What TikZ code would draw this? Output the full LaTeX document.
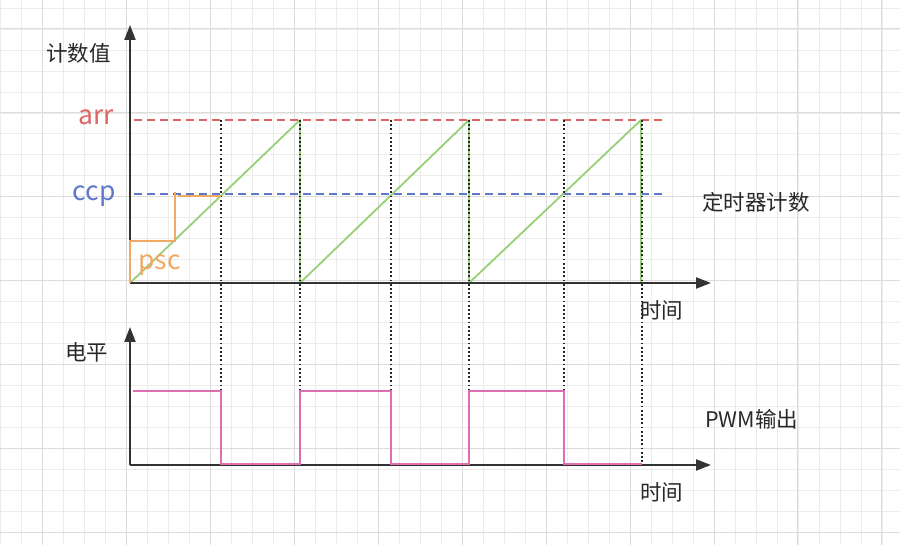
\documentclass[tikz,border=0pt]{standalone}
\usepackage{fontspec}
\setmainfont{Noto Sans CJK SC}
\usetikzlibrary{arrows.meta}
\definecolor{gridminor}{RGB}{236,236,236}
\definecolor{gridmajor}{RGB}{220,220,220}
\definecolor{axiscol}{RGB}{51,51,51}
\definecolor{arrred}{RGB}{222,100,100}
\definecolor{ccpblue}{RGB}{95,120,205}
\definecolor{rampgreen}{RGB}{151,208,119}
\definecolor{pwmpink}{RGB}{222,110,175}
\definecolor{pscorange}{RGB}{240,170,100}
\definecolor{txtcol}{RGB}{40,40,40}
\tikzset{
  axisline/.style={draw=axiscol, line width=2.2pt, -{Triangle[length=15pt,width=11pt]}},
  levelline/.style={line width=2.1pt, dash pattern=on 8pt off 5pt},
  dotline/.style={draw=black!85, line width=2pt, dash pattern=on 1.8pt off 2.4pt},
  cjk/.style={font=\fontsize{21.5}{24}\selectfont, text=txtcol, inner sep=0pt},
  latin/.style={font=\fontsize{26.5}{30}\selectfont, inner sep=0pt},
}
\begin{document}
\begin{tikzpicture}[x=1pt,y=-1pt]
\useasboundingbox (0,0) rectangle (900,545);
\fill[white] (0,0) rectangle (900,545);
% grid
\foreach \k in {0,...,42} \draw[gridminor, line width=0.8pt] ({0.74+20.98*\k},0) -- ++(0,545);
\foreach \k in {0,...,25} \draw[gridminor, line width=0.8pt] (0,{8.02+20.98*\k}) -- ++(900,0);
\foreach \k in {0,...,10} \draw[gridmajor, line width=1pt] ({42.7+83.92*\k},0) -- ++(0,545);
\foreach \k in {0,...,6} \draw[gridmajor, line width=1pt] (0,{29+83.92*\k}) -- ++(900,0);

% key coordinates
\coordinate (O1) at (130,283);
\coordinate (O2) at (130,465);

% level lines
\draw[levelline, draw=arrred] (134,120) -- (663,120);
\draw[levelline, draw=ccpblue] (134,194) -- (663,194);

% sawtooth
\draw[rampgreen, line width=1.8pt, line join=round]
  (130,283) -- (300,120) -- (300,283) -- (469,120) -- (469,283) -- (641,120) -- (641,283);

% dotted guides
\foreach \x in {221,300,391,469,564,642}
  \draw[dotline] (\x,120) -- (\x,465);

% axes
\draw[axisline] (O1) -- (130,25);
\draw[axisline] (O1) -- (711,283);
\draw[axisline] (O2) -- (130,327);
\draw[axisline] (O2) -- (711,465);

% psc steps
\draw[pscorange, line width=2pt] (130,283) -- (130,241) -- (175,241) -- (175,192);
\draw[pscorange, line width=2pt] (178,196) -- (221,196);

% PWM
\draw[pwmpink, line width=2pt]
  (133,391) -- (221,391) -- (221,464) -- (300,464) -- (300,391) -- (391,391)
  -- (391,464) -- (469,464) -- (469,391) -- (564,391) -- (564,464) -- (642,464);

% labels
\node[cjk, anchor=west] (ylab1) at (46,53) {计数值};
\node[latin, text=arrred, anchor=base east] (arrlab) at (114,125) {arr};
\node[latin, text=ccpblue, anchor=base east] (ccplab) at (116,201) {ccp};
\node[latin, text=pscorange, anchor=base west] (psclab) at (138,270) {psc};
\node[cjk, anchor=west] (timerlab) at (702,202) {定时器计数};
\node[cjk, anchor=west] (tlab1) at (640,310) {时间};
\node[cjk, anchor=west] (ylab2) at (65,352) {电平};
\node[cjk, anchor=west] (pwmlab) at (705,419) {PWM输出};
\node[cjk, anchor=west] (tlab2) at (640,492) {时间};
\end{tikzpicture}
\end{document}
